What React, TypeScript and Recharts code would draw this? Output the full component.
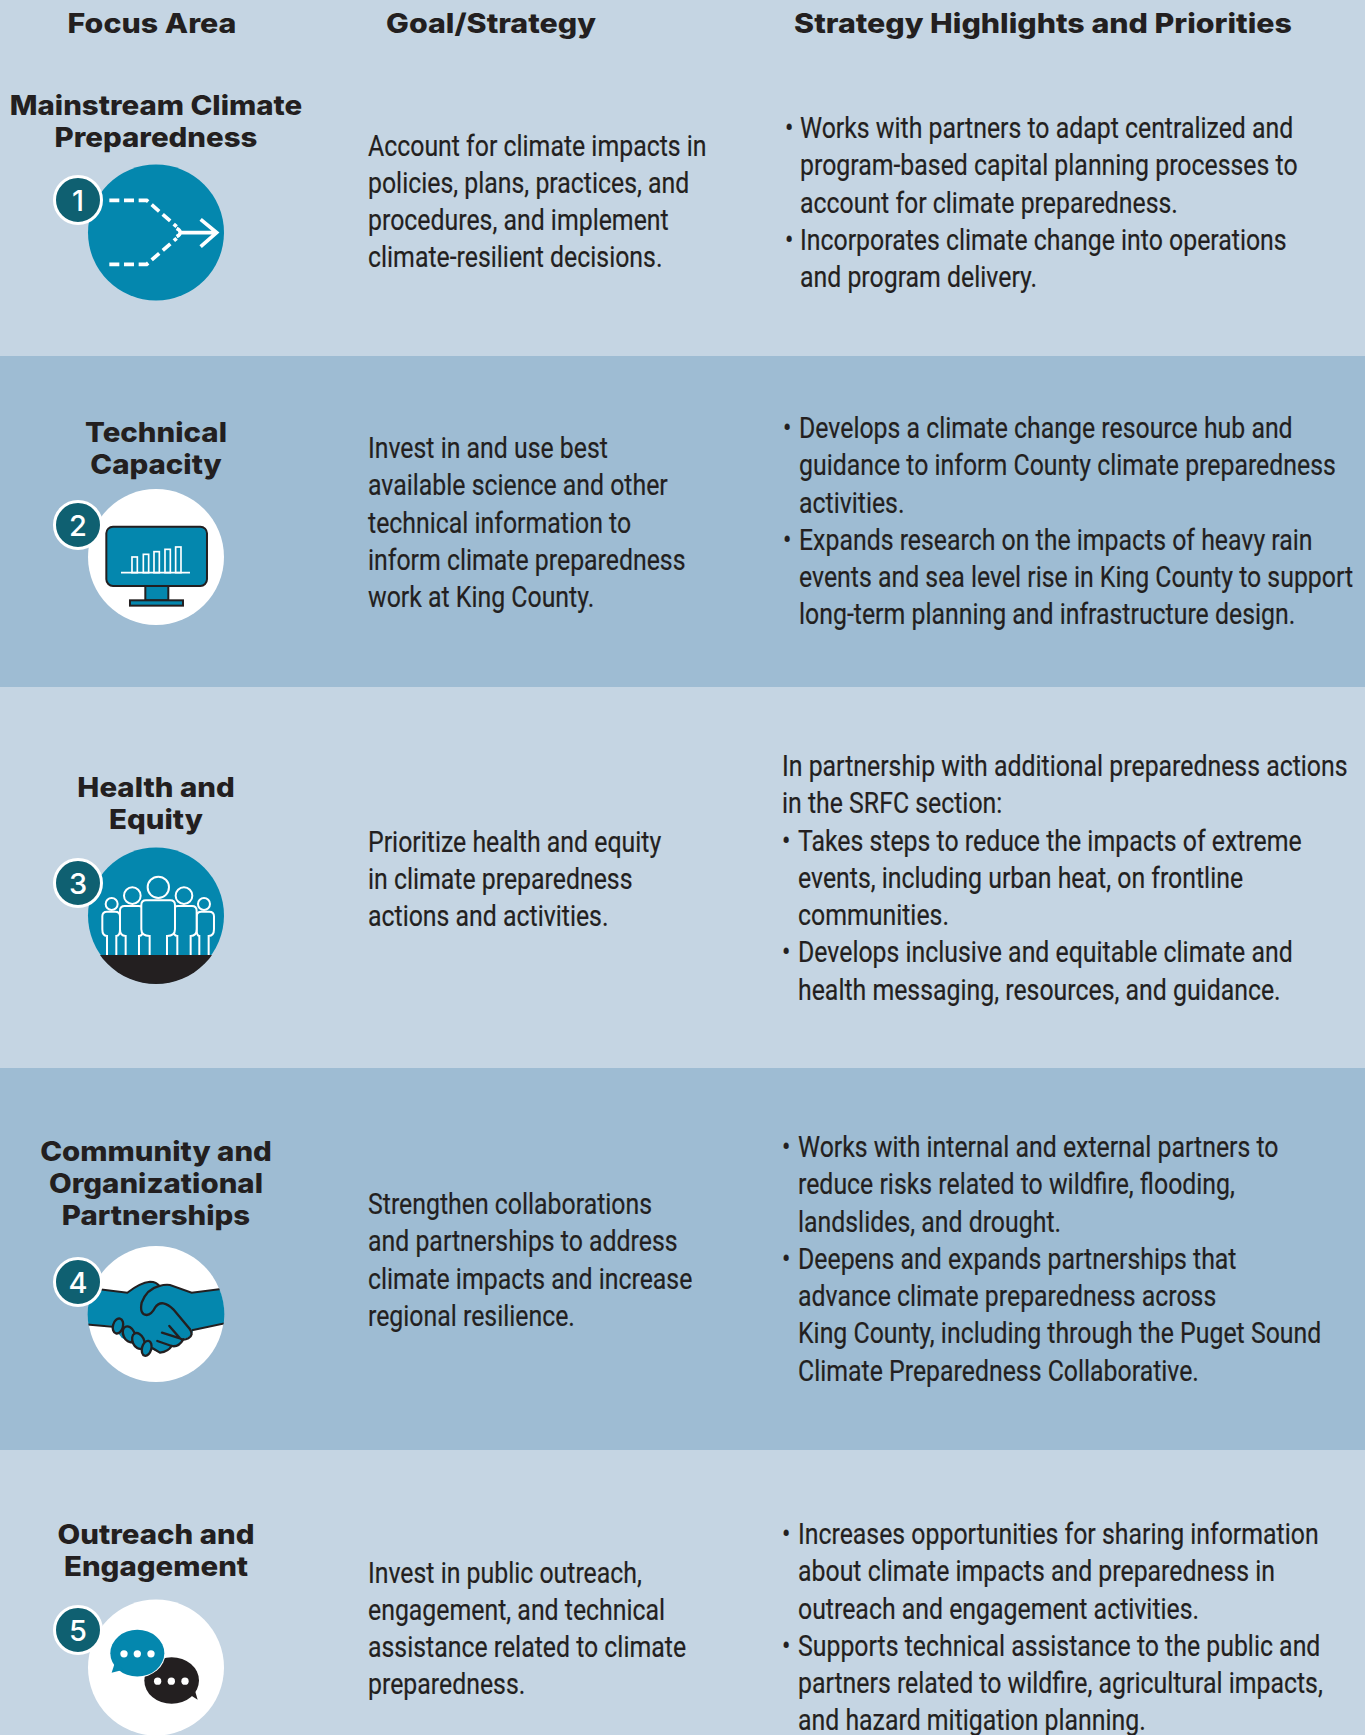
import React from 'react';
import { BarChart, Bar, XAxis, YAxis, LabelList } from 'recharts';

const WIDTH = 1365;
const HEIGHT = 1735;

const LIGHT = '#c5d5e3';
const DARK = '#9ebcd3';
const TEAL = '#0487ae';
const BADGE = '#0f6071';
const INK = '#231f20';

// row heights stacked top to bottom
const rowNames = ['row1', 'row2', 'row3', 'row4', 'row5'];
const rowHeights = [356, 331, 381, 382, 285];
const rowColors = [LIGHT, DARK, LIGHT, DARK, LIGHT];

const headers = ['Focus Area', 'Goal/Strategy', 'Strategy Highlights and Priorities'];

const focusAreas = [
  ['Mainstream Climate', 'Preparedness'],
  ['Technical', 'Capacity'],
  ['Health and', 'Equity'],
  ['Community and', 'Organizational', 'Partnerships'],
  ['Outreach and', 'Engagement'],
];

const goals = [
  ['Account for climate impacts in', 'policies, plans, practices, and', 'procedures, and implement', 'climate-resilient decisions.'],
  ['Invest in and use best', 'available science and other', 'technical information to', 'inform climate preparedness', 'work at King County.'],
  ['Prioritize health and equity', 'in climate preparedness', 'actions and activities.'],
  ['Strengthen collaborations', 'and partnerships to address', 'climate impacts and increase', 'regional resilience.'],
  ['Invest in public outreach,', 'engagement, and technical', 'assistance related to climate', 'preparedness.'],
];

const intros = [[], [], ['In partnership with additional preparedness actions', 'in the SRFC section:'], [], []];

const highlights = [
  [
    ['Works with partners to adapt centralized and', 'program-based capital planning processes to', 'account for climate preparedness.'],
    ['Incorporates climate change into operations', 'and program delivery.'],
  ],
  [
    ['Develops a climate change resource hub and', 'guidance to inform County climate preparedness', 'activities.'],
    ['Expands research on the impacts of heavy rain', 'events and sea level rise in King County to support', 'long-term planning and infrastructure design.'],
  ],
  [
    ['Takes steps to reduce the impacts of extreme', 'events, including urban heat, on frontline', 'communities.'],
    ['Develops inclusive and equitable climate and', 'health messaging, resources, and guidance.'],
  ],
  [
    ['Works with internal and external partners to', 'reduce risks related to wildfire, flooding,', 'landslides, and drought.'],
    ['Deepens and expands partnerships that', 'advance climate preparedness across', 'King County, including through the Puget Sound', 'Climate Preparedness Collaborative.'],
  ],
  [
    ['Increases opportunities for sharing information', 'about climate impacts and preparedness in', 'outreach and engagement activities.'],
    ['Supports technical assistance to the public and', 'partners related to wildfire, agricultural impacts,', 'and hazard mitigation planning.'],
  ],
];

const tableRow = rowNames.reduce<Record<string, any>>(
  (acc, name, i) => {
    acc[name] = rowHeights[i];
    return acc;
  },
  { name: 'table' },
);

// layout, in page pixels
const titleY = [115, 442, 797, 1161, 1544];
const goalY = [155.5, 458, 851.5, 1214, 1582.5];
const highY = [138, 438, 776, 1157, 1544];
const bulletX = [785, 783, 782, 782, 782];
const textX = [800, 799, 798, 798, 798];
const iconY = [232.5, 557, 915.5, 1314, 1667.5];
const badgeY = [200, 525, 883, 1282, 1630];
const iconShift = [0, 1, 0, 1, 0.5];
const LINE = 37.25;
const BODY_SCALE = 0.857;
const HEAD_SCALE = 1.125;
const TITLE_SCALE = 1.09;

const bodyStyle = { fontFamily: 'Roboto', fontSize: 29, fill: INK, stroke: INK, strokeWidth: 0.2 };
const headStyle = { fontFamily: 'Inter', fontSize: 27, fontWeight: 800, fill: INK };

function BodyLine({ x, y, text }: { x: number; y: number; text: string }) {
  return (
    <text transform={`translate(${x} ${y}) scale(${BODY_SCALE} 1)`} style={bodyStyle}>
      {text}
    </text>
  );
}

function HeadLine({ x, y, text, sx }: { x: number; y: number; text: string; sx: number }) {
  return (
    <text transform={`translate(${x} ${y}) scale(${sx} 1)`} textAnchor="middle" style={headStyle}>
      {text}
    </text>
  );
}

function RowText({ i }: { i: number }) {
  let y = highY[i];
  const rows: React.ReactNode[] = [];
  intros[i].forEach((line) => {
    rows.push(<BodyLine key={line} x={bulletX[i]} y={y} text={line} />);
    y += LINE;
  });
  highlights[i].forEach((group) => {
    group.forEach((line, n) => {
      if (n === 0) {
        rows.push(<BodyLine key={`b${line}`} x={bulletX[i]} y={y} text="•" />);
      }
      rows.push(<BodyLine key={line} x={textX[i]} y={y} text={line} />);
      y += LINE;
    });
  });
  return (
    <g>
      {focusAreas[i].map((line, n) => (
        <HeadLine key={line} x={156} y={titleY[i] + n * 32} text={line} sx={TITLE_SCALE} />
      ))}
      {goals[i].map((line, n) => (
        <BodyLine key={line} x={368} y={goalY[i] + n * LINE} text={line} />
      ))}
      {rows}
    </g>
  );
}

// the icon artwork below is traced in 3x units, hence the scale on each group
function MergeIcon() {
  return (
    <g transform="scale(0.3333)" fill="none" stroke="#fff" strokeWidth={11}>
      <path d="M328 601 L440 601 L530 680" strokeDasharray="30 14" />
      <path d="M328 793 L440 793 L530 715" strokeDasharray="30 14" />
      <path d="M530 685 Q552 697 530 710 M535 698 L650 698 M602 658 L650 698 L602 740" />
    </g>
  );
}

function MonitorIcon() {
  const bars = [
    [276, 258],
    [310, 250],
    [342, 242],
    [375, 235],
    [407, 228],
  ];
  return (
    <g transform="translate(40 470) scale(0.3333)" stroke={INK} strokeWidth={6} fill={TEAL}>
      <rect x={199} y={167} width={302} height={178} rx={20} />
      <rect x={316} y={345} width={69} height={43} />
      <rect x={270} y={388} width={159} height={16} />
      <g stroke="#fff" fill="none" strokeWidth={5}>
        {bars.map(([x, top]) => (
          <rect key={x} x={x} y={top} width={16} height={305 - top} />
        ))}
        <path d="M243 305 L450 305" />
      </g>
    </g>
  );
}

function Person({ cx, headY, r, x1, x2, top, hip, leg }: any) {
  return (
    <g>
      <circle cx={cx} cy={headY} r={r} />
      <path
        d={`M${cx - leg} 375 L${cx - leg} 318 Q${x1} 318 ${x1} 298 L${x1} ${top + 14} Q${x1} ${top} ${x1 + 14} ${top} L${x2 - 14} ${top} Q${x2} ${top} ${x2} ${top + 14} L${x2} 298 Q${x2} ${hip} ${cx + leg} ${hip} L${cx + leg} 375`}
      />
    </g>
  );
}

function PeopleIcon() {
  return (
    <g transform="translate(40 830) scale(0.3333)">
      <clipPath id="peopleClip">
        <circle cx={348} cy={256} r={206} />
      </clipPath>
      <rect x={130} y={375} width={440} height={100} fill={INK} clipPath="url(#peopleClip)" />
      <g fill="none" stroke="#fff" strokeWidth={6}>
        <Person cx={215} headY={222} r={18} x1={187} x2={240} top={245} hip={318} leg={14} />
        <Person cx={492} headY={222} r={18} x1={470} x2={522} top={245} hip={318} leg={14} />
        <g fill={TEAL}>
          <Person cx={277} headY={197} r={25} x1={240} x2={310} top={228} hip={318} leg={20} />
          <Person cx={432} headY={197} r={25} x1={400} x2={470} top={228} hip={318} leg={20} />
          <Person cx={355} headY={172} r={32} x1={304} x2={405} top={211} hip={318} leg={26} />
        </g>
      </g>
    </g>
  );
}

function HandsIcon() {
  const fingers = [
    [234, 285, 15, 23, 15],
    [267, 310, 17, 25, -25],
    [295, 330, 17, 25, -25],
    [320, 352, 14, 23, 15],
  ];
  return (
    <g transform="translate(40 1230) scale(0.3333)">
      <clipPath id="handsClip">
        <circle cx={348} cy={250} r={205} />
      </clipPath>
      <g clipPath="url(#handsClip)">
        <path
          d="M130 170 L190 176 L262 185 Q300 155 330 152 Q350 152 358 165 Q375 160 390 162 L455 185 L560 172 L560 276 L460 297 Q455 320 430 325 Q415 350 395 345 Q385 362 360 365 L335 355 L290 345 L245 320 L218 285 L130 280 Z"
          fill={TEAL}
        />
        <path
          d="M130 170 L190 176 L262 185 Q300 155 330 152 Q350 152 358 165 Q375 160 390 162 L455 185 L560 172 M130 280 L218 287 M560 276 L456 298"
          fill="none"
          stroke={INK}
          strokeWidth={6}
        />
      </g>
      <g stroke={INK} strokeWidth={7} fill={TEAL} strokeLinecap="round">
        {fingers.map(([cx, cy, rx, ry, rot]) => (
          <ellipse key={cx} cx={cx} cy={cy} rx={rx} ry={ry} transform={`rotate(${rot} ${cx} ${cy})`} />
        ))}
        <path
          fill="none"
          d="M358 165 Q320 175 305 215 Q298 250 320 252 Q335 250 345 230 Q355 215 370 217 Q385 220 400 235 L450 295 Q462 312 445 322 Q430 330 420 322 L388 285 M420 322 L366 305 M430 325 Q415 350 395 345 L352 330 M395 345 Q385 362 360 365 L338 352"
        />
      </g>
    </g>
  );
}

function ChatIcon() {
  const dots = [
    [252, 220],
    [292, 220],
    [333, 220],
    [353, 302],
    [394, 302],
    [435, 302],
  ];
  return (
    <g transform="translate(40 1580) scale(0.3333)">
      <ellipse cx={395} cy={300} rx={82} ry={70} fill={INK} />
      <path d="M445 340 L473 358 L462 320 Z" fill={INK} />
      <ellipse cx={292} cy={218} rx={84} ry={73} fill="#fff" />
      <ellipse cx={292} cy={218} rx={81} ry={70} fill={TEAL} />
      <path d="M225 245 L215 277 L250 268 Z" fill={TEAL} />
      {dots.map(([x, y]) => (
        <circle key={x} cx={x} cy={y} r={11} fill="#fff" />
      ))}
    </g>
  );
}

const iconFills = [TEAL, '#fff', TEAL, '#fff', '#fff'];
const icons = [MergeIcon, MonitorIcon, PeopleIcon, HandsIcon, ChatIcon];

function Headers() {
  return (
    <g>
      <HeadLine x={152} y={33} text={headers[0]} sx={HEAD_SCALE} />
      <HeadLine x={491} y={33} text={headers[1]} sx={HEAD_SCALE} />
      <HeadLine x={1043} y={33} text={headers[2]} sx={HEAD_SCALE} />
    </g>
  );
}

// drawn as each bar's label so it lands above the bar rectangles
function RowOverlay({ i }: { i: number }) {
  const Icon = icons[i];
  return (
    <g>
      {i === 0 && <Headers />}
      <RowText i={i} />
      <circle cx={156} cy={iconY[i]} r={68} fill={iconFills[i]} />
      <g transform={`translate(0 ${iconShift[i]})`}>
        <Icon />
      </g>
      <circle cx={78} cy={badgeY[i]} r={23.5} fill={BADGE} stroke="#fff" strokeWidth={3} />
      <text x={78} y={badgeY[i] + 10.5} textAnchor="middle" style={{ fontFamily: 'Inter', fontSize: 29, fontWeight: 500, fill: '#fff' }}>
        {i + 1}
      </text>
    </g>
  );
}

export default function App() {
  return (
    <div style={{ position: 'absolute', left: 0, top: 0, width: WIDTH, height: HEIGHT, overflow: 'hidden' }}>
      <BarChart
        width={WIDTH}
        height={HEIGHT}
        data={[tableRow]}
        margin={{ top: 0, right: 0, bottom: 0, left: 0 }}
        barCategoryGap={0}
      >
        <XAxis dataKey="name" hide />
        <YAxis hide reversed domain={[0, HEIGHT]} />
        {rowNames.map((name, i) => (
          <Bar key={name} dataKey={name} stackId="rows" fill={rowColors[i]} isAnimationActive={false}>
            <LabelList dataKey={name} content={() => <RowOverlay i={i} />} />
          </Bar>
        ))}
      </BarChart>
    </div>
  );
}
